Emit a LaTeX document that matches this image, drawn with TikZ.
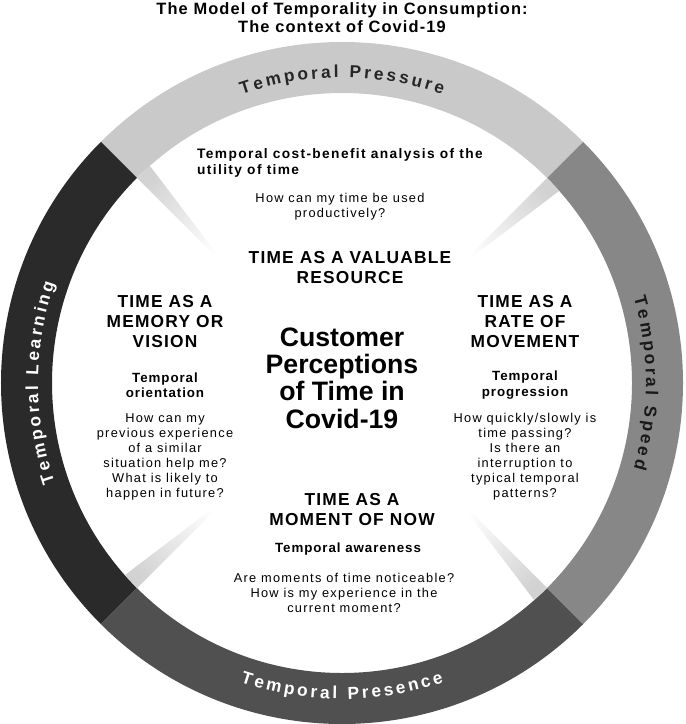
\documentclass[tikz,border=0pt]{standalone}
\usepackage{fontspec}
\setmainfont{Liberation Sans}[LetterSpace=10]
\newfontfamily\headfont{Liberation Sans}[LetterSpace=7]
\newfontfamily\subfont{Liberation Sans}[LetterSpace=10]
\newfontfamily\ringfont{Liberation Sans}
\newfontfamily\centfont{Liberation Sans}
\usetikzlibrary{decorations.text}
\definecolor{segtop}{HTML}{C9C9C9}
\definecolor{segright}{HTML}{878787}
\definecolor{segbottom}{HTML}{505050}
\definecolor{segleft}{HTML}{2A2A2A}
\newcommand\rk{\kern2.2pt}
\tikzset{
  head/.style={font=\headfont\bfseries\fontsize{13}{15}\selectfont, align=center},
  sub/.style={font=\headfont\bfseries\fontsize{10}{11.5}\selectfont, align=center},
  body/.style={font=\fontsize{9.6}{11.3}\selectfont, align=center},
  ringtxt/.style={decorate, decoration={text along path, text align=center, text color=#1}},
}
\begin{document}
\begin{tikzpicture}[x=0.75pt,y=0.75pt]
\useasboundingbox (0,0) rectangle (685,-724);
\fill[white] (0,0) rectangle (685,-724);
\begin{scope}[shift={(342,-383)}]
  \def\Ro{255.75pt}\def\Ri{217.5pt}
  \fill[segtop] (45:\Ro) arc[start angle=45,end angle=135,radius=\Ro] -- (135:\Ri) arc[start angle=135,end angle=45,radius=\Ri] -- cycle;
  \fill[segleft] (135:\Ro) arc[start angle=135,end angle=225,radius=\Ro] -- (225:\Ri) arc[start angle=225,end angle=135,radius=\Ri] -- cycle;
  \fill[segbottom] (225:\Ro) arc[start angle=225,end angle=315,radius=\Ro] -- (315:\Ri) arc[start angle=315,end angle=225,radius=\Ri] -- cycle;
  \fill[segright] (-45:\Ro) arc[start angle=-45,end angle=45,radius=\Ro] -- (45:\Ri) arc[start angle=45,end angle=-45,radius=\Ri] -- cycle;
  % wedges
  \foreach \t in {45,135,225,315}{
    \pgfmathsetmacro{\sa}{\t+90}
    \shade[top color=white,bottom color=gray!35,shading angle=\sa]
      (\t:120pt) -- (\t:\Ri) -- (\t-3.5:\Ri) -- cycle;
  }
  % ring texts
  \path[ringtxt=black!85, decoration={text={|\ringfont\bfseries\fontsize{13}{15}\selectfont|{T\rk}{e\rk}{m\rk}{p\rk}{o\rk}{r\rk}{a\rk}{l\rk}{ \rk}{P\rk}{r\rk}{e\rk}{s\rk}{s\rk}{u\rk}{r\rk}{e}}}]
    (130:229pt) arc[start angle=130,end angle=50,radius=229pt];
  \path[ringtxt=black!90, decoration={text={|\ringfont\bfseries\fontsize{13}{15}\selectfont|{T\rk}{e\rk}{m\rk}{p\rk}{o\rk}{r\rk}{a\rk}{l\rk}{ \rk}{S\rk}{p\rk}{e\rk}{e\rk}{d}}}]
    (35:228pt) arc[start angle=35,end angle=-35,radius=228pt];
  \path[ringtxt=white, decoration={text={|\ringfont\bfseries\fontsize{13}{15}\selectfont|{T\rk}{e\rk}{m\rk}{p\rk}{o\rk}{r\rk}{a\rk}{l\rk}{ \rk}{L\rk}{e\rk}{a\rk}{r\rk}{n\rk}{i\rk}{n\rk}{g}}}]
    (215:228pt) arc[start angle=215,end angle=145,radius=228pt];
  \path[ringtxt=white, decoration={text={|\ringfont\bfseries\fontsize{13}{15}\selectfont|{T\rk}{e\rk}{m\rk}{p\rk}{o\rk}{r\rk}{a\rk}{l\rk}{ \rk}{P\rk}{r\rk}{e\rk}{s\rk}{e\rk}{n\rk}{c\rk}{e}}}]
    (230:237pt) arc[start angle=230,end angle=310,radius=237pt];
\end{scope}
\begin{scope}[y=-0.75pt]
  \node[head,font=\headfont\bfseries\fontsize{12.3}{13.5}\selectfont] (title) at (342,18) {The Model of Temporality in Consumption:\\The context of Covid-19};
  \node[sub,align=left,font=\subfont\bfseries\fontsize{10.3}{12}\selectfont] (tcb) at (340,163) {Temporal cost-benefit analysis of the\\utility of time};
  \node[body] (tcbq) at (340,207) {How can my time be used\\productively?};
  \node[head] (valr) at (350,268) {TIME AS A VALUABLE\\RESOURCE};
  \node[head] (mem) at (165,322) {TIME AS A\\MEMORY OR\\VISION};
  \node[sub] (orient) at (165,385) {Temporal\\orientation};
  \node[body] (orientq) at (165,457) {How can my\\previous experience\\of a similar\\situation help me?\\What is likely to\\happen in future?};
  \node[font=\centfont\bfseries\fontsize{20}{20.5}\selectfont,align=center] (cust) at (342,378) {Customer\\Perceptions\\of Time in\\Covid-19};
  \node[head] (rate) at (525,322) {TIME AS A\\RATE OF\\MOVEMENT};
  \node[sub] (prog) at (525,385) {Temporal\\progression};
  \node[body] (progq) at (525,457) {How quickly/slowly is\\time passing?\\Is there an\\interruption to\\typical temporal\\patterns?};
  \node[head] (now) at (352,510) {TIME AS A\\MOMENT OF NOW};
  \node[sub] (aware) at (348,549) {Temporal awareness};
  \node[body] (awareq) at (344,593) {Are moments of time noticeable?\\How is my experience in the\\current moment?};
\end{scope}
\end{tikzpicture}
\end{document}
